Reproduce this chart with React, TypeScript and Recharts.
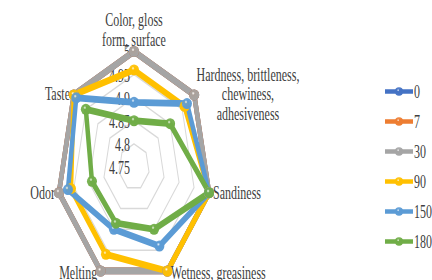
import React from "react";
import {
  Legend,
  PolarAngleAxis,
  PolarGrid,
  PolarRadiusAxis,
  Radar,
  RadarChart,
} from "recharts";

const categories = [
  "Color, gloss\nform, surface",
  "Hardness, brittleness,\nchewiness,\nadhesiveness",
  "Sandiness",
  "Wetness, greasiness",
  "Melting",
  "Odor",
  "Taste",
];

const day0 = [5, 5, 5, 5, 5, 5, 5];
const day7 = [5, 5, 5, 5, 5, 5, 5];
const day30 = [5, 5, 5, 5, 5, 5, 5];
const day90 = [4.96, 4.96, 5, 5, 4.96, 4.96, 5];
const day150 = [4.89, 4.97, 5, 4.94, 4.9, 4.97, 4.99];
const day180 = [4.85, 4.9, 5, 4.9, 4.885, 4.89, 4.95];

const radiusTicks = [4.75, 4.8, 4.85, 4.9, 4.95, 5];

const series = [
  { key: "0", values: day0, color: "#4472C4" },
  { key: "7", values: day7, color: "#ED7D31" },
  { key: "30", values: day30, color: "#A5A5A5" },
  { key: "90", values: day90, color: "#FFC000" },
  { key: "150", values: day150, color: "#5B9BD5" },
  { key: "180", values: day180, color: "#70AD47" },
];

const data = categories.map((category, i) => {
  const row: Record<string, any> = { category };
  series.forEach((s) => {
    row[s.key] = s.values[i];
  });
  return row;
});

// the original picture is stretched vertically, so draw flat and scale up
const SY = 1.5;
const W = 432;
const H = 280 / SY;
const FONT = "Liberation Serif, Times New Roman, serif";
const TEXT = "#404040";
const LINE_H = 13;

const AngleTick = (props: any) => {
  const { x, y, payload, textAnchor } = props;
  const lines = String(payload.value).split("\n");
  let anchor = textAnchor;
  let tx = x;
  let firstY: number;
  if (anchor === "middle") {
    firstY = y - 7 - (lines.length - 1) * LINE_H;
  } else {
    firstY = y - ((lines.length - 1) * LINE_H) / 2;
    if (anchor === "start") {
      tx = x + 3;
      if (lines.length > 1) {
        anchor = "middle";
        tx = x + 53;
      }
    } else {
      tx = x - 3;
    }
  }
  return (
    <text textAnchor={anchor} fill={TEXT} fontSize={12} fontFamily={FONT}>
      {lines.map((l, i) => (
        <tspan key={i} x={tx} y={firstY + i * LINE_H} dy="0.35em">
          {l}
        </tspan>
      ))}
    </text>
  );
};

const RadiusTick = (props: any) => {
  const { x, y, payload } = props;
  return (
    <text
      x={x - 4}
      y={y + 0.5}
      dy="0.35em"
      textAnchor="end"
      fill={TEXT}
      fontSize={12}
      fontFamily={FONT}
    >
      {Number(Number(payload.value).toFixed(2)).toString()}
    </text>
  );
};

const makeDot = (id: string) => (props: any) => {
  const { cx, cy, index } = props;
  if (cx == null || cy == null) return <g key={`${id}-${index}`} />;
  return (
    <ellipse
      key={`${id}-${index}`}
      cx={cx}
      cy={cy}
      rx={5}
      ry={5.5 / SY}
      fill={`url(#ball-${id})`}
    />
  );
};

const renderLegend = () => (
  <svg width={50} height={120} style={{ display: "block" }}>
    {series.map((s, i) => {
      const y = 8 + i * 20;
      return (
        <g key={s.key}>
          <line x1={2} x2={30} y1={y} y2={y} stroke={s.color} strokeWidth={3} />
          <ellipse cx={16} cy={y} rx={4} ry={2.8} fill={`url(#ball-${s.key})`} />
          <text
            x={31}
            y={y}
            dy="0.35em"
            fill={TEXT}
            fontSize={12}
            fontFamily={FONT}
          >
            {s.key}
          </text>
        </g>
      );
    })}
  </svg>
);

export default function App() {
  return (
    <div
      style={{
        position: "absolute",
        left: 0,
        top: 0,
        width: W,
        height: 280,
        overflow: "hidden",
        background: "#fff",
      }}
    >
      <svg width={0} height={0} style={{ position: "absolute" }}>
        <defs>
          {series.map((s) => (
            <radialGradient key={s.key} id={`ball-${s.key}`} cx="40%" cy="35%" r="65%">
              <stop offset="0%" stopColor="#ffffff" stopOpacity={0.85} />
              <stop offset="25%" stopColor={s.color} stopOpacity={0.9} />
              <stop offset="100%" stopColor={s.color} />
            </radialGradient>
          ))}
        </defs>
      </svg>
      <div
        style={{
          width: W,
          height: H,
          transform: `scaleY(${SY})`,
          transformOrigin: "0 0",
        }}
      >
        <RadarChart
          width={W}
          height={H}
          data={data}
          cx={134}
          cy={111.3}
          outerRadius={77}
          margin={{ top: 0, right: 0, bottom: 0, left: 0 }}
        >
          <PolarGrid
            gridType="polygon"
            radialLines={false}
            stroke="#d9d9d9"
            strokeWidth={1}
          />
          <PolarAngleAxis
            dataKey="category"
            tick={<AngleTick />}
            tickLine={false}
            tickSize={1}
            axisLine={false}
          />
          <PolarRadiusAxis
            type="number"
            scale="linear"
            angle={90}
            domain={[radiusTicks[0], radiusTicks[radiusTicks.length - 1]]}
            ticks={radiusTicks as any}
            tickCount={radiusTicks.length}
            tick={<RadiusTick />}
            axisLine={false}
            tickLine={false}
            {...({ zIndex: -50 } as any)}
          />
          {series.map((s) => (
            <Radar
              key={s.key}
              name={s.key}
              dataKey={s.key}
              stroke={s.color}
              strokeWidth={4.5}
              fill="none"
              fillOpacity={0}
              dot={makeDot(s.key)}
              isAnimationActive={false}
            />
          ))}
          <Legend
            layout="vertical"
            align="right"
            verticalAlign="top"
            wrapperStyle={{ left: 383, top: 52.7, width: 49 }}
            content={renderLegend}
          />
        </RadarChart>
      </div>
    </div>
  );
}
